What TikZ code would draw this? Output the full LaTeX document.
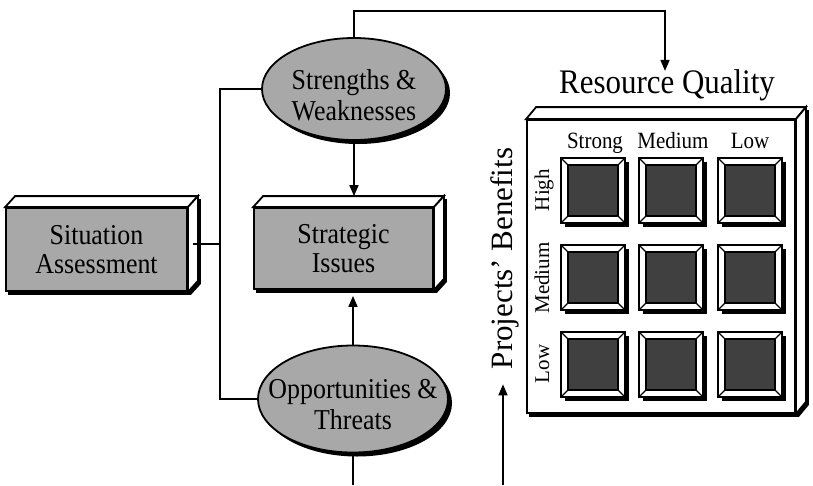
\documentclass[tikz,border=0pt]{standalone}
\usepackage{fontspec}
\setmainfont{Liberation Serif}[FakeStretch=0.9]
\newfontfamily\plainserif{Liberation Serif}
\usetikzlibrary{arrows.meta,calc,shapes.geometric,shadows,backgrounds}

\definecolor{boxgray}{gray}{0.66}
\definecolor{cellgray}{gray}{0.25}

\begin{document}
\begin{tikzpicture}[
  x=1pt, y=-1pt,
  >={Triangle[length=11pt, width=9pt]},
  ln/.style      = {line width=1.6pt},
  arr/.style     = {->, line width=1.6pt},
  boxfront/.style= {draw, line width=1.8pt, fill=boxgray, inner sep=0pt,
                    align=center, font=\fontsize{28.8}{29}\selectfont},
  face3d/.style  = {draw, fill=white, line width=1.8pt},
  ell/.style     = {ellipse, draw, line width=1.8pt, fill=boxgray, inner sep=0pt,
                    drop shadow={shadow xshift=4pt, shadow yshift=-4pt,
                                 fill=black, opacity=1}},
  elltxt/.style  = {align=center, inner sep=0pt, font=\fontsize{28.8}{31}\selectfont},
  bigtxt/.style  = {font=\fontsize{34.4}{36}\selectfont, inner sep=2pt},
  sidetxt/.style = {font=\plainserif\fontsize{31}{34}\selectfont, inner sep=2pt},
  axlbl/.style   = {font=\fontsize{23.3}{25}\selectfont, inner sep=1pt},
  sidelbl/.style = {font=\plainserif\fontsize{21}{24}\selectfont, inner sep=1pt},
  cell/.style    = {draw, line width=2pt, fill=white, inner sep=0pt,
                    minimum width=64pt, minimum height=65pt,
                    drop shadow={shadow xshift=4pt, shadow yshift=-4pt,
                                 fill=black, opacity=1},
                    path picture={
                      \draw[line width=1.2pt, fill=cellgray]
                        ($(path picture bounding box.north west)+(7pt,-7pt)$) rectangle
                        ($(path picture bounding box.south east)+(-7pt,7pt)$);
                      \draw[line width=1.2pt]
                        (path picture bounding box.north west) -- ++(7pt,-7pt)
                        (path picture bounding box.north east) -- ++(-7pt,-7pt)
                        (path picture bounding box.south west) -- ++(7pt,7pt)
                        (path picture bounding box.south east) -- ++(-7pt,7pt);
                    }},
]
\useasboundingbox (0,0) rectangle (813,485);

%% ------------------------------------------------------------------ LEFT SIDE
\node[boxfront, minimum width=181pt, minimum height=83pt] (sit) at (96.5,249.5)
  {Situation\\Assessment};
\node[boxfront, minimum width=179pt, minimum height=81pt] (iss) at (343.5,248.5)
  {Strategic\\Issues};
\node[ell, minimum width=184pt, minimum height=102pt] (sw) at (354,89) {};
\node[elltxt] (swtxt) at ($(sw)+(0pt,-6pt)$) {Strengths \&\\Weaknesses};
\node[ell, minimum width=190pt, minimum height=107pt] (ot) at (353,399) {};
\node[elltxt] (ottxt) at ($(ot)+(0pt,-6pt)$) {Opportunities \&\\Threats};

%% ------------------------------------------------------------------ MATRIX
\node[boxfront, fill=white, minimum width=268pt, minimum height=293pt] (mat)
  at (661,266.5) {};

% extruded faces and shadows of the boxes
\foreach \nd/\dx/\dy in {sit/10/11, iss/10/11, mat/10/12} {
  \begin{scope}[on background layer]
    \fill[black] ([shift={(3pt,-3pt)}]\nd.south west)
      -- ([shift={(3pt,-3pt)}]\nd.north west) -- ++(\dx pt,\dy pt)
      -- ([shift={(\dx pt+3pt,\dy pt-3pt)}]\nd.north east)
      -- ([shift={(\dx pt+3pt,\dy pt-3pt)}]\nd.south east)
      -- ([shift={(3pt,-3pt)}]\nd.south east) -- cycle;
  \end{scope}
  \filldraw[face3d] (\nd.north west) -- ++(\dx pt,\dy pt)
    -- ($(\nd.north east)+(\dx pt,\dy pt)$) -- (\nd.north east) -- cycle;
  \filldraw[face3d] (\nd.north east) -- ++(\dx pt,\dy pt)
    -- ($(\nd.south east)+(\dx pt,\dy pt)$) -- (\nd.south east) -- cycle;
}

\foreach \cx [count=\c] in {593,671,750}
  \foreach \cy [count=\r] in {190.5,277.5,364.5}
    { \node[cell] (cell\r\c) at (\cx,\cy) {}; }

\node[axlbl, anchor=base] (qstrong) at (595,148) {Strong};
\node[axlbl, anchor=base] (qmedium) at (673,148) {Medium};
\node[axlbl, anchor=base] (qlow)    at (750,148) {Low};
\node[sidelbl, anchor=base, rotate=90] (bhigh)   at (549,190) {High};
\node[sidelbl, anchor=base, rotate=90] (bmedium) at (549,278) {Medium};
\node[sidelbl, anchor=base, rotate=90] (blow)    at (549,364) {Low};

\node[bigtxt, anchor=base] (rq) at (667,93) {Resource Quality};
\node[sidetxt, anchor=base, rotate=90] (pb) at (512,258.5) {Projects’ Benefits};

%% ------------------------------------------------------------------ CONNECTORS
\coordinate (sitside) at ($(sit.east)+(5pt,5.5pt)$);
\coordinate (bus)     at (220,244);
\coordinate (rqbend)  at (665,11);
\coordinate (isstop)  at ($(iss.north)+(0pt,11pt)$);
\coordinate (otfoot)  at (352,485);
\coordinate (pbfoot)  at (503,485);

\draw[ln] (sitside) -- (bus);
\draw[ln] (sw.west) -| (bus) |- (ot.west);
\draw[arr] (sw.north) |- (rqbend) -- ($(rqbend |- rq.north)+(0pt,-4pt)$);
\draw[arr] (sw.south) -- (sw.south |- isstop);
\draw[arr, shorten >=6pt] (ot.north) -- (ot.north |- iss.south);
\draw[ln] (ot.south) -- (ot.south |- otfoot);
\draw[arr, shorten >=13pt] (pbfoot) -- (pbfoot |- pb.west);

\end{tikzpicture}
\end{document}
